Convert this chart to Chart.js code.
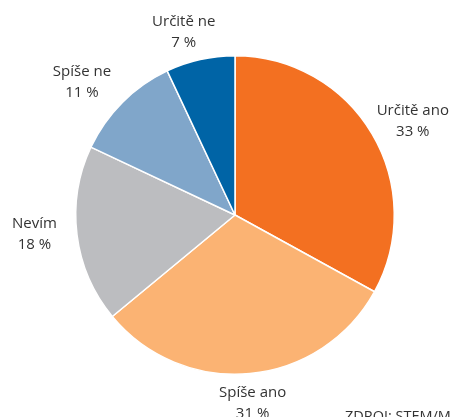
<!DOCTYPE html>
<html>
<head>
<meta charset="utf-8">
<script src="https://cdn.jsdelivr.net/npm/chart.js@4.4.1/dist/chart.umd.min.js"></script>
<style>
  body { margin: 0; background: #fff; }
  #wrap { width: 452px; height: 417px; }
</style>
</head>
<body>
<div id="wrap"><canvas id="kolac" width="452" height="417"></canvas></div>
<script>
// odpovědi a podíly (%)
const kategorie = ['Určitě ano', 'Spíše ano', 'Nevím', 'Spíše ne', 'Určitě ne'];
const hodnoty = [33, 31, 18, 11, 7];
const barvy = ['#F37021', '#FBB373', '#BCBDC0', '#80A6CA', '#0064A6'];
const zdroj = 'ZDROJ: STEM/MARK';

// ruční doladění polohy popisků (px)
const posun = [[5, 9], [0, 3], [1, -6], [-13, 8], [-10, 2]];

const popisky = {
    id: 'popisky',
    afterDraw(chart) {
        const ctx = chart.ctx;
        const meta = chart.getDatasetMeta(0);
        ctx.save();
        ctx.fillStyle = '#333333';
        ctx.font = '15px "Open Sans", sans-serif';
        ctx.textAlign = 'center';
        ctx.textBaseline = 'middle';
        meta.data.forEach(function(arc, i) {
            const p = arc.getProps(['x', 'y', 'startAngle', 'endAngle', 'outerRadius'], true);
            const a = (p.startAngle + p.endAngle) / 2;
            const d = p.outerRadius + 26 + 18 * Math.abs(Math.cos(a));
            const x = p.x + Math.cos(a) * d + posun[i][0];
            const y = p.y + Math.sin(a) * d + posun[i][1];
            ctx.fillText(kategorie[i], x, y - 11);
            ctx.fillText(hodnoty[i] + ' %', x, y + 10);
        });
        ctx.font = '14.5px "Open Sans", sans-serif';
        ctx.textAlign = 'left';
        ctx.textBaseline = 'alphabetic';
        ctx.fillText(zdroj, 345, 421);
        ctx.restore();
    }
};

new Chart(document.getElementById('kolac'), {
    type: 'pie',
    data: {
        labels: kategorie,
        datasets: [{
            data: hodnoty,
            backgroundColor: barvy,
            borderColor: '#ffffff',
            borderWidth: 1.5
        }]
    },
    options: {
        responsive: false,
        animation: false,
        layout: { padding: { left: 75, right: 57, top: 55, bottom: 42 } },
        plugins: {
            legend: { display: false },
            tooltip: { enabled: false }
        }
    },
    plugins: [popisky]
});
</script>
</body>
</html>
